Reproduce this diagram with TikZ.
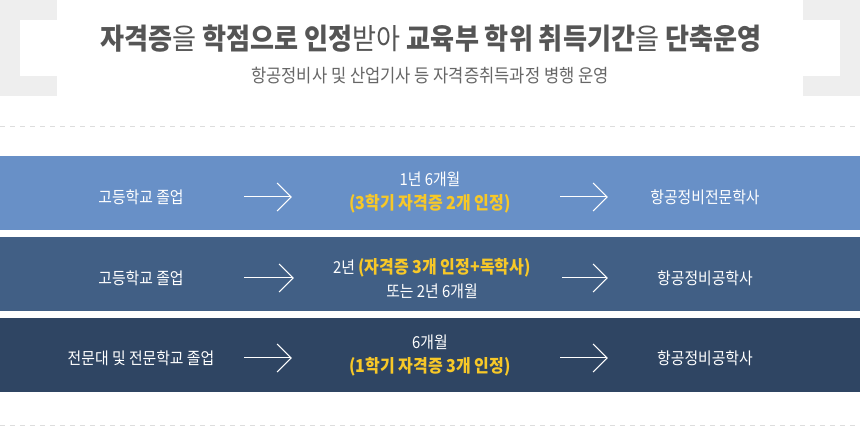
\documentclass[tikz,border=0pt]{standalone}
\usepackage{fontspec}
\setmainfont{Noto Sans CJK KR}[FakeStretch=0.9]
\usetikzlibrary{arrows.meta,calc}
\definecolor{topgray}{HTML}{EEEEEE}
\definecolor{titlegray}{HTML}{555555}
\definecolor{subgray}{HTML}{666666}
\definecolor{dashgray}{HTML}{DDDDDD}
\definecolor{bandA}{HTML}{6890C7}
\definecolor{bandB}{HTML}{415F85}
\definecolor{bandC}{HTML}{2F4563}
\definecolor{hlyellow}{HTML}{F7C828}
\newcommand{\hl}[1]{{\color{hlyellow}\fontsize{17.8}{24}\selectfont\bfseries #1}}
\begin{document}
\begin{tikzpicture}[x=1pt, y=-1pt,
  cell/.style={text=white, font=\fontsize{16.5}{24}\selectfont, align=center, inner sep=0pt},
  flow/.style={white, line width=1pt, -{Straight Barb[length=14pt, width=28pt]}},
  sep/.style={dashgray, line width=1pt, dash pattern=on 5pt off 5pt}]
  \useasboundingbox (0,0) rectangle (860,427);
  % heading panel
  \fill[topgray] (0,0) rectangle (860,96);
  \fill[white] (57,0) rectangle (803,96);
  \fill[white] (20,20) rectangle (840,76);
  \node[text=titlegray, font=\fontsize{29}{32}\selectfont\bfseries] (title) at (431,38.5)
    {자격증{\mdseries 을} 학점으로 인정{\mdseries 받아} 교육부 학위 취득기간{\mdseries 을} 단축운영};
  \node[text=subgray, font=\fontsize{18.4}{20}\selectfont] (subtitle) at (430,75.5)
    {항공정비사 및 산업기사 등 자격증취득과정 병행 운영};
  % separators
  \draw[sep] (0,127) -- (860,127);
  \draw[sep] (0,426) -- (860,426);
  % bands
  \fill[bandA] (0,156) rectangle (860,230);
  \fill[bandB] (0,237) rectangle (860,311);
  \fill[bandC] (0,318) rectangle (860,392);
  % row 1
  \node[cell, minimum width=206pt] (l1) at (141,197) {고등학교 졸업};
  \node[cell, minimum width=276pt] (m1) at (430,193) {1년 6개월\\\hl{(3학기 자격증 2개 인정)}};
  \node[cell, minimum width=194pt] (r1) at (705,197) {항공정비전문학사};
  \draw[flow] (l1.east) -- (l1.east -| m1.west);
  \draw[flow] ($(m1.east |- r1.west)+(-8,0)$) -- (r1.west);
  % row 2
  \node[cell, minimum width=206pt] (l2) at (141,278) {고등학교 졸업};
  \node[cell, minimum width=276pt] (m2) at (432,278.5) {2년 \hl{(자격증 3개 인정+독학사)}\\또는 2년 6개월};
  \node[cell, minimum width=194pt] (r2) at (705,278) {항공정비공학사};
  \draw[flow] (l2.east) -- (l2.east -| m2.west);
  \draw[flow] ($(m2.east |- r2.west)+(-8,0)$) -- (r2.west);
  % row 3
  \node[cell, minimum width=206pt] (l3) at (141,358) {전문대 및 전문학교 졸업};
  \node[cell, minimum width=276pt] (m3) at (430,356) {6개월\\\hl{(1학기 자격증 3개 인정)}};
  \node[cell, minimum width=194pt] (r3) at (705,358) {항공정비공학사};
  \draw[flow] (l3.east) -- (l3.east -| m3.west);
  \draw[flow] ($(m3.east |- r3.west)+(-8,0)$) -- (r3.west);
\end{tikzpicture}
\end{document}
